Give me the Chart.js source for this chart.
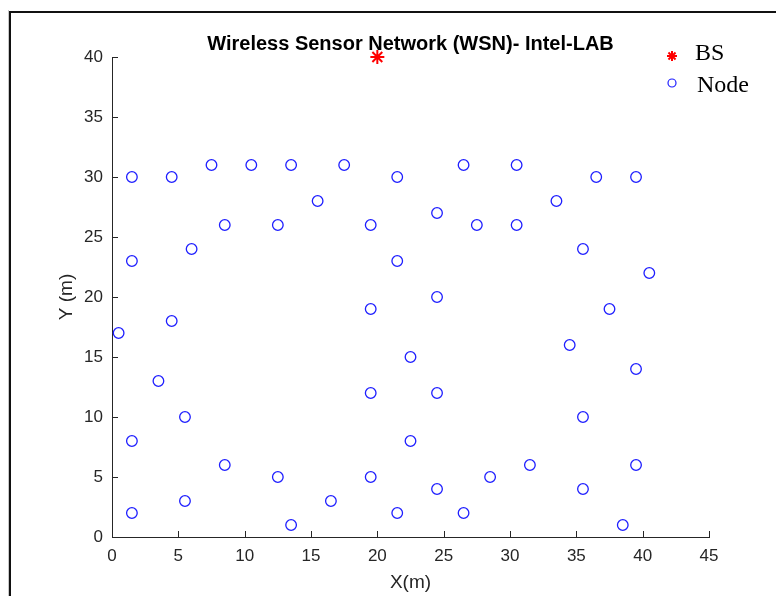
<!DOCTYPE html>
<html>
<head>
<meta charset="utf-8">
<script src="https://cdn.jsdelivr.net/npm/chart.js@4/dist/chart.umd.min.js"></script>
<style>
  html, body { margin: 0; padding: 0; background: #fff; }
  #wrap { width: 776px; height: 596px; position: relative; }
</style>
</head>
<body>
<div id="wrap"><canvas id="c" width="776" height="596"></canvas></div>
<script>
// Sensor node positions in the lab (metres)
const nodeX = [1.5, 4.5, 7.5, 10.5, 13.5, 17.5, 15.5, 21.5, 26.5, 30.5, 33.5, 36.5, 39.5,
               8.5, 12.5, 6, 1.5, 19.5, 24.5, 27.5, 30.5, 35.5, 40.5, 21.5, 24.5, 19.5, 37.5,
               0.5, 4.5, 34.5, 22.5, 3.5, 39.5, 5.5, 19.5, 24.5, 35.5, 1.5, 22.5,
               8.5, 12.5, 19.5, 28.5, 31.5, 39.5, 24.5, 35.5, 5.5, 16.5, 1.5, 21.5, 26.5, 13.5, 38.5];
const nodeY = [30, 30, 31, 31, 31, 31, 28, 30, 31, 31, 28, 30, 30,
               26, 26, 24, 23, 26, 27, 26, 26, 24, 22, 23, 20, 19, 19,
               17, 18, 16, 15, 13, 14, 10, 12, 12, 10, 8, 8,
               6, 5, 5, 5, 6, 6, 4, 4, 3, 3, 2, 2, 2, 1, 1];
// Base station
const bsX = [20];
const bsY = [40];
// Axis ticks
const xTicks = [0, 5, 10, 15, 20, 25, 30, 35, 40, 45];
const yTicks = [0, 5, 10, 15, 20, 25, 30, 35, 40];
const titleText = 'Wireless Sensor Network (WSN)- Intel-LAB';
const xTitle = 'X(m)';
const yTitle = 'Y (m)';

const AXIS = '#262626';
const NODE_BLUE = 'rgb(30,30,255)';
const BS_RED = '#ff0000';

const toPoints = (xs, ys) => xs.map((x, i) => ({ x: x, y: ys[i] }));

const decor = {
  id: 'decor',
  beforeDraw(chart) {
    const ctx = chart.ctx;
    ctx.save();
    // figure frame
    ctx.fillStyle = '#c8c8c8';
    ctx.fillRect(8, 10, 1, 586);
    ctx.fillStyle = '#111';
    ctx.fillRect(9, 11, 2, 585);
    ctx.fillRect(9, 11, 767, 2);
    ctx.restore();
  },
  afterDraw(chart) {
    const ctx = chart.ctx;
    const ca = chart.chartArea;
    const xs = chart.scales.x, ys = chart.scales.y;
    ctx.save();
    // inward tick marks
    ctx.strokeStyle = AXIS;
    ctx.lineWidth = 1;
    ctx.beginPath();
    xs.ticks.forEach(t => {
      const px = Math.round(xs.getPixelForValue(t.value)) + 0.5;
      ctx.moveTo(px, ca.bottom);
      ctx.lineTo(px, ca.bottom - 6);
    });
    ys.ticks.forEach(t => {
      const py = Math.round(ys.getPixelForValue(t.value)) + 0.5;
      ctx.moveTo(ca.left, py);
      ctx.lineTo(ca.left + 6, py);
    });
    ctx.stroke();

    // title
    ctx.fillStyle = '#000';
    ctx.font = 'bold 20px "Liberation Sans", Arial, sans-serif';
    ctx.textAlign = 'center';
    ctx.textBaseline = 'alphabetic';
    ctx.fillText(titleText, (ca.left + ca.right) / 2, 50);

    // axis titles
    ctx.fillStyle = AXIS;
    ctx.font = '19px "Liberation Sans", Arial, sans-serif';
    ctx.textBaseline = 'middle';
    ctx.fillText(xTitle, (ca.left + ca.right) / 2, 583);
    ctx.translate(67, (ca.top + ca.bottom) / 2);
    ctx.rotate(-Math.PI / 2);
    ctx.fillText(yTitle, 0, 0);
    ctx.restore();

    // legend
    ctx.save();
    const entries = [
      { ds: chart.data.datasets[0], y: 56, textY: 60, textX: 695 },
      { ds: chart.data.datasets[1], y: 83, textY: 92, textX: 697 }
    ];
    entries.forEach(e => {
      const isStar = e.ds.pointStyle === 'star';
      ctx.strokeStyle = e.ds.borderColor;
      ctx.fillStyle = isStar ? e.ds.borderColor : 'rgba(0,0,0,0)';
      ctx.lineWidth = isStar ? 2 : 1.2;
      Chart.helpers.drawPoint(ctx, {
        pointStyle: e.ds.pointStyle,
        radius: isStar ? 5 : 4,
        rotation: 0,
        borderWidth: ctx.lineWidth
      }, 672, e.y);
      ctx.fillStyle = '#000';
      ctx.font = '24px "Liberation Serif", "Times New Roman", serif';
      ctx.textAlign = 'left';
      ctx.textBaseline = 'alphabetic';
      ctx.fillText(e.ds.label, e.textX, e.textY);
    });
    ctx.restore();
  }
};

new Chart(document.getElementById('c'), {
  type: 'scatter',
  data: {
    datasets: [
      {
        label: 'BS',
        data: toPoints(bsX, bsY),
        pointStyle: 'star',
        radius: 7,
        borderWidth: 2,
        borderColor: BS_RED,
        backgroundColor: BS_RED
      },
      {
        label: 'Node',
        data: toPoints(nodeX, nodeY),
        pointStyle: 'circle',
        radius: 5.3,
        borderWidth: 1.3,
        borderColor: NODE_BLUE,
        backgroundColor: 'rgba(0,0,0,0)'
      }
    ]
  },
  options: {
    responsive: false,
    animation: false,
    devicePixelRatio: 1,
    clip: false,
    layout: { padding: { top: 57, right: 67, left: 0, bottom: 0 } },
    plugins: {
      legend: { display: false },
      title: { display: false },
      tooltip: { enabled: false }
    },
    scales: {
      x: {
        type: 'linear',
        min: 0, max: 45,
        afterBuildTicks: s => { s.ticks = xTicks.map(v => ({ value: v })); },
        afterFit: s => { s.height = 59; },
        grid: { display: true, drawOnChartArea: false, drawTicks: false, color: 'rgba(0,0,0,0)' },
        border: { display: true, color: AXIS, width: 1 },
        ticks: {
          color: AXIS,
          padding: 9,
          maxRotation: 0,
          font: { family: '"Liberation Sans", Arial, sans-serif', size: 17 }
        }
      },
      y: {
        type: 'linear',
        min: 0, max: 40,
        afterBuildTicks: s => { s.ticks = yTicks.map(v => ({ value: v })); },
        afterFit: s => { s.width = 112; },
        grid: { display: true, drawOnChartArea: false, drawTicks: false, color: 'rgba(0,0,0,0)' },
        border: { display: true, color: AXIS, width: 1 },
        ticks: {
          color: AXIS,
          padding: 9,
          font: { family: '"Liberation Sans", Arial, sans-serif', size: 17 }
        }
      }
    }
  },
  plugins: [decor]
});
</script>
</body>
</html>
